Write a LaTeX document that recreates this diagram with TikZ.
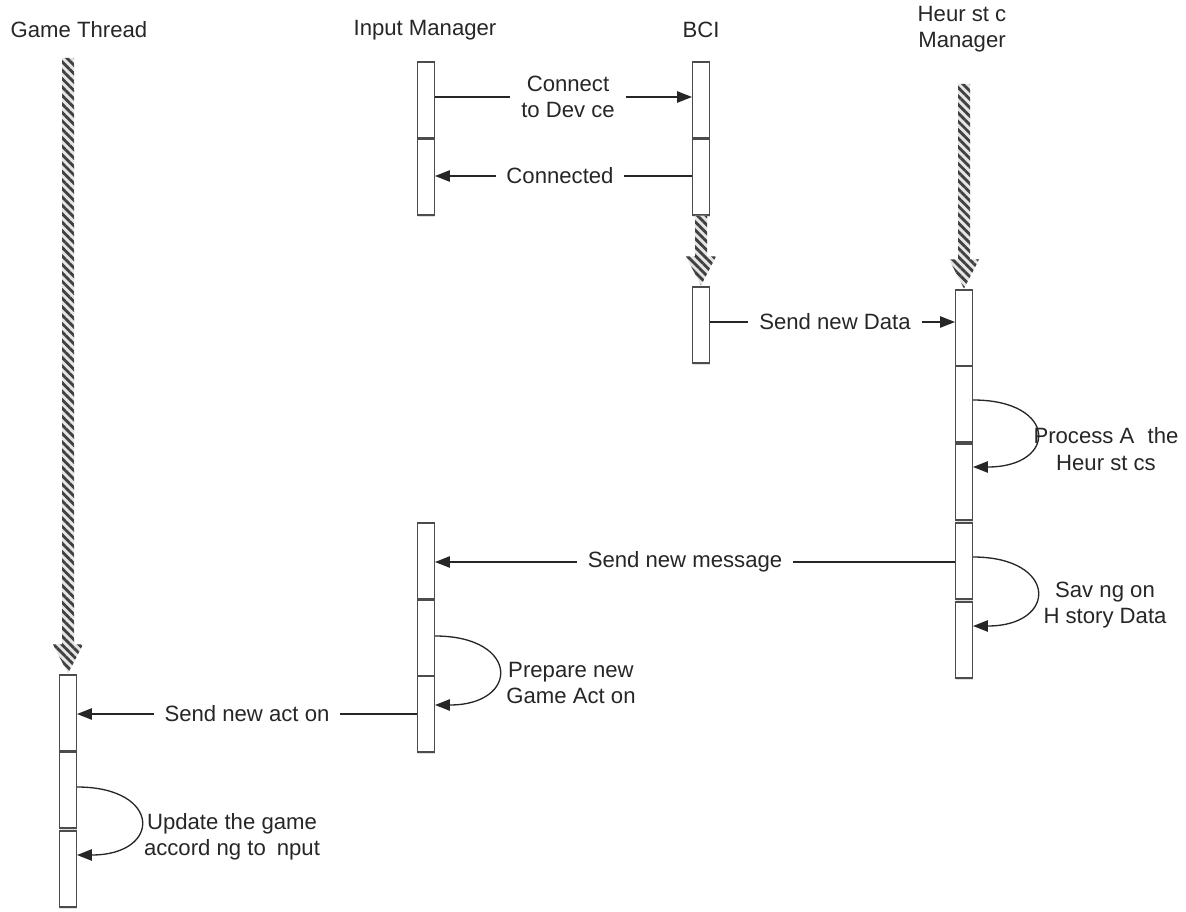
\documentclass[tikz,border=0pt]{standalone}
\usepackage{fontspec}
\setmainfont{Liberation Sans}
\usetikzlibrary{arrows.meta,calc,patterns.meta,shadows}

\begin{document}
\begin{tikzpicture}[x=0.02cm, y=-0.02cm,
    font=\fontsize{12.6}{15}\selectfont, text=black!85,
    title/.style={align=center},
    bar/.style={draw=black!70, line width=0.6pt, fill=white, minimum width=0.34cm, minimum height=1.52cm, inner sep=0pt, drop shadow={shadow xshift=0.4pt, shadow yshift=-1.2pt, opacity=0.25}},
    lbl/.style={align=center, inner sep=6pt},
    note/.style={align=center, inner sep=1pt},
    msg/.style={draw=black!85, line width=0.75pt},
    arrow/.style={msg, -{Triangle[length=8.5pt,width=6.5pt]}},
    stripes/.style={preaction={fill=black!10}, pattern={Lines[angle=-45,distance=3.4pt,line width=1.6pt]}, pattern color=black!75}]

    \useasboundingbox (0,0) rectangle (1186,912);

    % titles
    \node (game) [title] at (79,30) {Game Thread};
    \node (input) [title] at (425,30) {Input Manager};
    \node (bci) [title] at (701,30) {BCI};
    \node (heur) [title] at (962,29) {Heur st c\\Manager};

    % activation bars
    \node (im1) [bar] at (426,100) {};
    \node (im2) [bar] at (426,177) {};
    \node (im3) [bar] at (426,561) {};
    \node (im4) [bar] at (426,638) {};
    \node (im5) [bar] at (426,714) {};
    \node (b1) [bar] at (701,100) {};
    \node (b2) [bar] at (701,177) {};
    \node (b3) [bar] at (701,325) {};
    \node (h1) [bar] at (964,328) {};
    \node (h2) [bar] at (964,404) {};
    \node (h3) [bar] at (964,482) {};
    \node (h4) [bar] at (964,561) {};
    \node (h5) [bar] at (964,640) {};
    \node (gt1) [bar] at (68,713) {};
    \node (gt2) [bar] at (68,790) {};
    \node (gt3) [bar] at (68,869) {};

    % striped waiting lines
    \coordinate (gtop) at (68,58);
    \coordinate (btop) at (b2.south);
    \coordinate (htop) at (964,84);
    \foreach \a/\b in {gtop/gt1, btop/b3, htop/h1}
      \fill[stripes] ($(\a)+(-6,0)$) -- ($(\a)+(6,0)$) -- ($(\b.north)+(6,-30)$) -- ($(\b.north)+(15,-30)$)
        -- ($(\b.north)+(0,-1)$) -- ($(\b.north)+(-15,-30)$) -- ($(\b.north)+(-6,-30)$) -- cycle;

    % messages
    \node (conn) [lbl] at (568,97) {Connect\\to Dev ce};
    \draw [msg] (im1.east |- conn) -- (conn);
    \draw [arrow] (conn) -- (b1.west |- conn);

    \node (cnd) [lbl] at (560,176) {Connected};
    \draw [msg] (b2.west |- cnd) -- (cnd);
    \draw [arrow] (cnd) -- (im2.east |- cnd);

    \node (sdata) [lbl] at (835,322) {Send new Data};
    \draw [msg] (b3.east |- sdata) -- (sdata);
    \draw [arrow] (sdata) -- (h1.west |- sdata);

    \node (smsg) [lbl] at (685,562) {Send new message};
    \draw [msg] (h4.west |- smsg) -- (smsg);
    \draw [arrow] (smsg) -- (im3.east |- smsg);

    \node (sact) [lbl] at (247,714) {Send new act on};
    \draw [msg] (im5.west |- sact) -- (sact);
    \draw [arrow] (sact) -- (gt1.east |- sact);

    % self calls
    \draw [arrow] ($(h2.east)+(0,-4)$) .. controls +(85,0) and +(85,0) .. ($(h3.east)+(0,-15)$);
    \node (proc) [note] at (1106,449) {Process A\hspace{0.6em}the\\Heur st cs};

    \draw [arrow] ($(h4.east)+(0,-4)$) .. controls +(85,0) and +(85,0) .. ($(h5.east)+(0,-14)$);
    \node (save) [note] at (1105,605) {Sav ng on\\H story Data};

    \draw [arrow] ($(im4.east)+(0,-2)$) .. controls +(85,0) and +(85,0) .. ($(im5.east)+(0,-9)$);
    \node (prep) [note] at (571,683) {Prepare new\\Game Act on};

    \draw [arrow] ($(gt2.east)+(0,-3)$) .. controls +(85,0) and +(85,0) .. ($(gt3.east)+(0,-14)$);
    \node (upd) [note] at (232,837) {Update the game\\accord ng to\hspace{0.5em}nput};
\end{tikzpicture}
\end{document}
